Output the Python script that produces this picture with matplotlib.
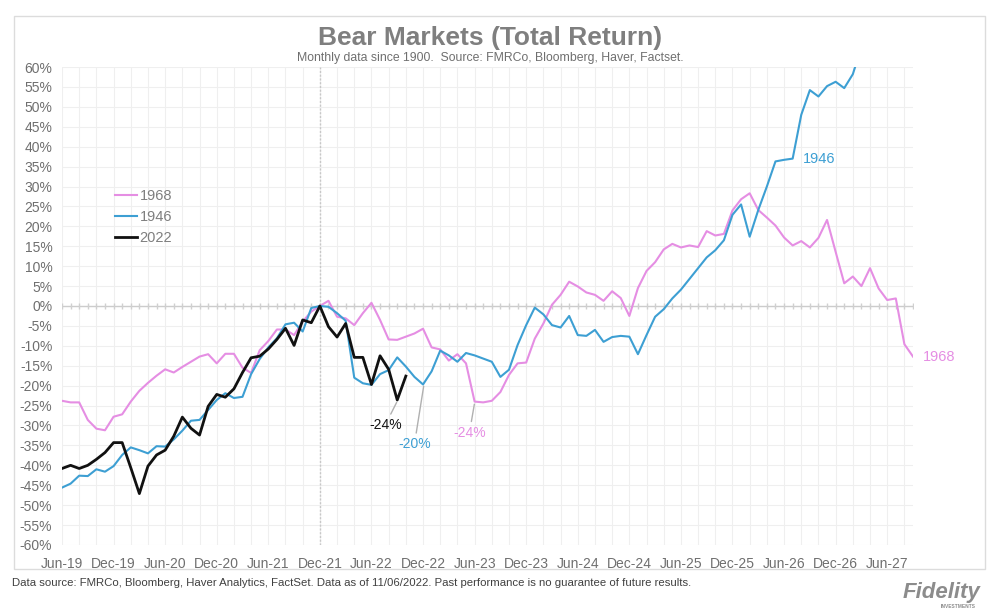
import numpy as np
import matplotlib
matplotlib.use("Agg")
from matplotlib import pyplot as plt
from matplotlib.ticker import FuncFormatter, MultipleLocator

plt.rcParams["font.family"] = ["Liberation Sans", "DejaVu Sans"]
plt.rcParams["axes.unicode_minus"] = False

# monthly total return vs. the prior peak (%), one point per month starting Jun-19
bear_1968 = [-23.8, -24.2, -24.2, -28.6, -30.8, -31.2, -27.8, -27.2, -24.0, -21.3,
             -19.3, -17.5, -15.9, -16.7, -15.3, -14.0, -12.7, -12.1, -14.4, -12.0,
             -12.0, -15.5, -16.8, -11.1, -8.8, -5.9, -5.9, -7.3, -3.9, -1.4,
             0.0, 1.3, -2.7, -3.1, -4.8, -1.8, 0.8, -3.5, -8.4, -8.5,
             -7.7, -6.9, -5.7, -10.4, -10.9, -13.7, -12.1, -14.4, -24.0, -24.2,
             -23.8, -21.6, -17.3, -14.4, -14.2, -8.2, -4.4, 0.3, 2.8, 6.1,
             4.9, 3.4, 2.8, 1.3, 3.7, 2.0, -2.5, 4.5, 8.8, 11.0,
             14.2, 15.6, 14.7, 15.2, 14.8, 18.8, 17.7, 18.1, 24.0, 26.8,
             28.3, 24.1, 22.2, 20.2, 17.2, 15.2, 16.3, 14.7, 17.1, 21.6,
             13.6, 5.7, 7.4, 5.0, 9.5, 4.4, 1.5, 1.9, -9.6, -12.7]
bear_1946 = [-45.6, -44.6, -42.6, -42.7, -41.0, -41.6, -40.2, -37.4, -35.5, -36.2,
             -37.0, -35.2, -35.3, -33.5, -31.3, -28.8, -28.6, -26.1, -23.6, -21.9,
             -23.1, -22.8, -17.1, -13.3, -10.4, -8.1, -4.6, -4.2, -6.4, -0.5,
             0.0, -0.2, -1.8, -3.7, -18.0, -19.4, -19.8, -17.1, -16.1, -12.9,
             -15.2, -17.8, -19.7, -16.4, -11.2, -12.4, -14.0, -11.8, -12.4, -13.2,
             -14.0, -17.8, -16.0, -9.8, -4.8, -0.4, -2.1, -4.8, -5.4, -2.5,
             -7.3, -7.5, -6.0, -9.0, -7.8, -7.5, -7.7, -12.1, -7.3, -2.7,
             -0.8, 1.9, 4.1, 6.8, 9.5, 12.2, 14.0, 16.5, 22.9, 25.5,
             17.4, 24.1, 30.0, 36.3, 36.7, 37.0, 48.0, 54.2, 52.6, 55.2,
             56.3, 54.7, 58.2, 65.0]
bear_2022 = [-40.8, -40.0, -40.8, -40.0, -38.5, -36.8, -34.3, -34.3, -40.6, -47.1,
             -40.2, -37.4, -36.2, -32.7, -27.9, -30.7, -32.4, -25.2, -22.2, -22.9,
             -20.8, -16.7, -13.0, -12.6, -10.8, -8.4, -5.6, -9.9, -3.5, -4.2,
             0.0, -5.2, -7.8, -4.4, -12.9, -12.9, -19.7, -12.5, -15.9, -23.6,
             -17.6]

tick_labels = ["Jun-19", "Dec-19", "Jun-20", "Dec-20", "Jun-21", "Dec-21", "Jun-22",
               "Dec-22", "Jun-23", "Dec-23", "Jun-24", "Dec-24", "Jun-25", "Dec-25",
               "Jun-26", "Dec-26", "Jun-27"]

pink = "#e58ee3"
blue = "#3d9fd3"
black = "#111111"
grey = "#7f7f7f"

fig = plt.figure(figsize=(10, 6.16), dpi=100)
ax = fig.add_axes([0.062, 0.1153, 0.851, 0.7759])

n = len(bear_1968)
ax.set_xlim(0, n - 1)
ax.set_ylim(-60, 60)

# grid + axes decoration
ax.xaxis.set_minor_locator(MultipleLocator(2))
ax.yaxis.set_major_locator(MultipleLocator(5))
ax.grid(True, which="both", axis="x", color="#efefef", linewidth=0.8)
ax.grid(True, which="major", axis="y", color="#efefef", linewidth=0.8)
ax.set_axisbelow(True)
for s in ax.spines.values():
    s.set_visible(False)
ax.axhline(0, color="#cccccc", linewidth=1, zorder=1)
ax.plot(np.arange(n), np.zeros(n), linestyle="none", marker="|", markersize=5,
        color="#d0d0d0", zorder=1)
ax.axvline(30, color="#c8c8c8", linewidth=1, linestyle=(0, (1.5, 1.2)), zorder=1)

l1, = ax.plot(np.arange(len(bear_1968)), bear_1968, color=pink, linewidth=1.5, label="1968", zorder=3)
l2, = ax.plot(np.arange(len(bear_1946)), bear_1946, color=blue, linewidth=1.5, label="1946", zorder=4)
l3, = ax.plot(np.arange(len(bear_2022)), bear_2022, color=black, linewidth=2, label="2022", zorder=5)

ax.set_xticks(np.arange(0, n, 6))
ax.set_xticklabels(tick_labels)
ax.yaxis.set_major_formatter(FuncFormatter(lambda v, p: f"{v:.0f}%"))
ax.tick_params(axis="both", which="both", length=0, labelsize=10, labelcolor="#6f6f6f")
ax.tick_params(axis="x", pad=9)
ax.tick_params(axis="y", pad=7)

leg = ax.legend(handles=[l1, l2, l3], loc="upper left", bbox_to_anchor=(0.062, 0.745),
                frameon=False, fontsize=10.5, borderpad=0, borderaxespad=0,
                handlelength=1.5, handletextpad=0.2, labelspacing=0.5)
for t in leg.get_texts():
    t.set_color(grey)

# trough annotations
ax.annotate("-24%", xy=(39, -23.9), xytext=(37.6, -29.9), color=black, fontsize=10,
            ha="center", va="center",
            arrowprops=dict(arrowstyle="-", color="#b0b0b0", lw=1, shrinkA=1, shrinkB=1))
ax.annotate("-20%", xy=(42.1, -19.8), xytext=(41.0, -34.7), color=blue, fontsize=10,
            ha="center", va="center",
            arrowprops=dict(arrowstyle="-", color="#b0b0b0", lw=1, shrinkA=1, shrinkB=1))
ax.annotate("-24%", xy=(48.0, -24.3), xytext=(47.4, -31.8), color=pink, fontsize=10,
            ha="center", va="center",
            arrowprops=dict(arrowstyle="-", color="#b0b0b0", lw=1, shrinkA=1, shrinkB=1))
ax.text(86.2, 36.9, "1946", color=blue, fontsize=10.5, ha="left", va="center")
ax.text(100.2, -12.9, "1968", color=pink, fontsize=10.5, ha="left", va="center", clip_on=False)

fig.text(0.49, 0.938, "Bear Markets (Total Return)", ha="center", va="center",
         fontsize=19, fontweight="bold", color=grey)
fig.text(0.49, 0.906, "Monthly data since 1900.  Source: FMRCo, Bloomberg, Haver, Factset.",
         ha="center", va="center", fontsize=8.8, color="#6f6f6f")
fig.text(0.012, 0.054, "Data source: FMRCo, Bloomberg, Haver Analytics, FactSet. Data as of 11/06/2022. "
         "Past performance is no guarantee of future results.",
         ha="left", va="center", fontsize=8.2, color="#404040")
fig.text(0.98, 0.038, "Fidelity", ha="right", va="center", fontsize=16, fontweight="bold",
         fontstyle="italic", color="#8c8c8c")
fig.text(0.976, 0.016, "INVESTMENTS", ha="right", va="center", fontsize=3.5, fontweight="bold",
         color="#8c8c8c")

# chart border
fig.patches.append(plt.Rectangle((0.014, 1 - 569 / 616), 0.971, (569 - 16) / 616,
                                 transform=fig.transFigure, fill=False,
                                 edgecolor="#dcdcdc", linewidth=1))

fig.savefig("out.png", dpi=100, facecolor="white")
